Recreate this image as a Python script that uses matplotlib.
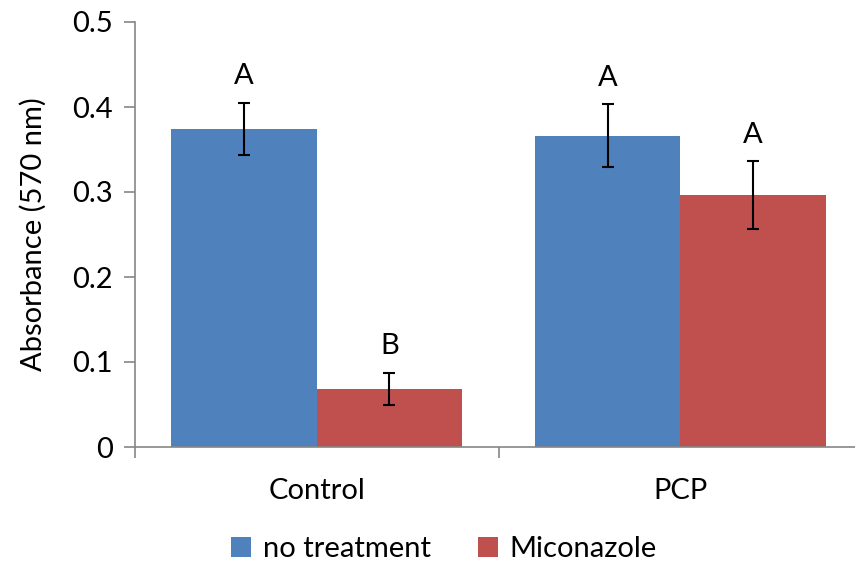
import matplotlib
matplotlib.use("Agg")
import matplotlib.pyplot as plt
import numpy as np
from matplotlib.patches import Patch

categories = ["Control", "PCP"]
series_names = ["no treatment", "Miconazole"]
no_treatment = [0.374, 0.366]
no_treatment_err = [0.031, 0.037]
miconazole = [0.068, 0.296]
miconazole_err = [0.019, 0.040]
letters_no_treatment = ["A", "A"]
letters_miconazole = ["B", "A"]
yticks = [0, 0.1, 0.2, 0.3, 0.4, 0.5]
ytick_labels = ["0", "0.1", "0.2", "0.3", "0.4", "0.5"]

plt.rcParams['font.family'] = ['Lato', 'DejaVu Sans']
FS = 21
W, H = 855, 567
fig = plt.figure(figsize=(W/100, H/100), dpi=100)
ax = fig.add_axes([135/W, 1-447/H, (862-135)/W, (447-22)/H])

blue = "#4F81BD"
red = "#C0504D"
grey = "#868686"
x = np.arange(len(categories))
bw = 0.4
ax.bar(x - bw/2, no_treatment, bw, color=blue, edgecolor="none")
ax.bar(x + bw/2, miconazole, bw, color=red, edgecolor="none")
ax.errorbar(x - bw/2, no_treatment, yerr=no_treatment_err, fmt="none",
            ecolor="black", elinewidth=1.5, capsize=4.5, capthick=1.5)
ax.errorbar(x + bw/2, miconazole, yerr=miconazole_err, fmt="none",
            ecolor="black", elinewidth=1.5, capsize=4.5, capthick=1.5)

for xi, v, e, t in zip(x - bw/2, no_treatment, no_treatment_err, letters_no_treatment):
    ax.text(xi, v + e + 0.016, t, ha="center", va="bottom", fontsize=FS)
for xi, v, e, t in zip(x + bw/2, miconazole, miconazole_err, letters_miconazole):
    ax.text(xi, v + e + 0.016, t, ha="center", va="bottom", fontsize=FS)

ax.set_xlim(-0.5, 1.5)
ax.set_ylim(0, 0.5)
ax.set_yticks(yticks)
ax.set_yticklabels(ytick_labels, fontsize=FS)
ax.set_xticks(x)
ax.set_xticklabels(categories, fontsize=FS)
ax.set_xticks([-0.5, 0.5, 1.5], minor=True)
ax.tick_params(axis="x", which="major", length=0, pad=22)
ax.tick_params(axis="x", which="minor", length=8, color=grey, width=1.2)
ax.tick_params(axis="y", length=8, color=grey, width=1.2, pad=8)
for s in ["top", "right"]:
    ax.spines[s].set_visible(False)
for s in ["left", "bottom"]:
    ax.spines[s].set_color(grey)
    ax.spines[s].set_linewidth(1.2)
ax.set_ylabel("Absorbance (570 nm)", fontsize=FS, labelpad=18)

handles = [Patch(facecolor=blue, edgecolor="none"), Patch(facecolor=red, edgecolor="none")]
fig.legend(handles, series_names, loc="center", bbox_to_anchor=(444/W, 1-549/H),
           ncol=2, frameon=False, fontsize=FS, handlelength=0.7, handleheight=0.7,
           handletextpad=0.4, columnspacing=1.6)

fig.savefig("out.png", dpi=100)
